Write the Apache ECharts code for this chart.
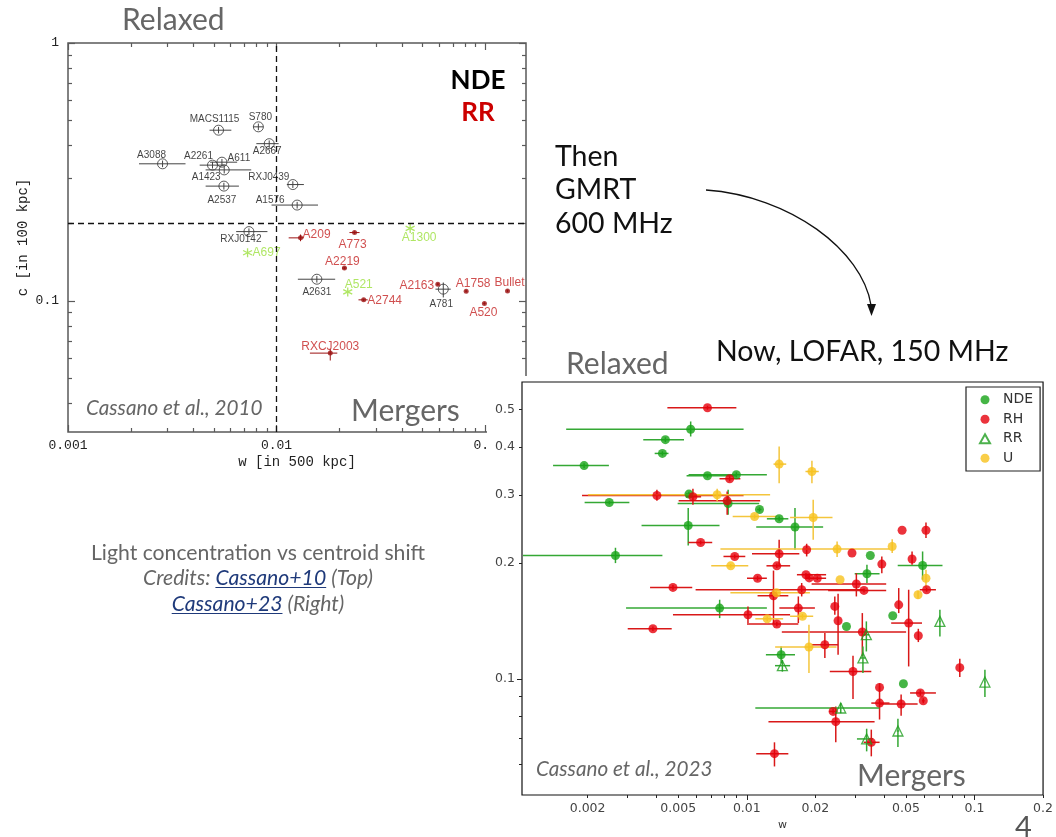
<!DOCTYPE html>
<html>
<head>
<meta charset="utf-8">
<title>Light concentration vs centroid shift</title>
<script src="https://cdn.jsdelivr.net/npm/echarts@6.0.0/dist/echarts.min.js"></script>
<style>
html,body{margin:0;padding:0;background:#ffffff;}
#chart{width:1056px;height:837px;}
</style>
</head>
<body>
<div id="chart"></div>
<script>
// ================= DATA =================
// Thresholds drawn as dashed lines
const c10WLine = 0.0125;
const lofarWLine = 0.012;
const cLine = 0.2;

// Cassano et al. 2010 (GMRT 600 MHz). rows: [w, c, wLow, wHigh, cLow, cHigh]
const c10NdeNames = ['MACS1115','S780','A2667','A3088','A2261','A611','A1423','RXJ0439','A2537','A1576','RXJ0142','A2631','A781'];
const c10Nde = [
  [0.00527,0.459,0.00477,0.00607,0.446,0.473],
  [0.00818,0.473,0.00773,0.00865,0.459,0.487],
  [0.00922,0.407,0.0080,0.01023,0.395,0.419],
  [0.00284,0.340,0.00219,0.00366,0.330,0.350],
  [0.00493,0.336,0.00428,0.00565,0.326,0.346],
  [0.00547,0.345,0.0048,0.00647,0.335,0.355],
  [0.00561,0.322,0.00457,0.00756,0.312,0.332],
  [0.01197,0.2825,0.0112,0.01352,0.274,0.291],
  [0.00559,0.2786,0.00457,0.0066,0.270,0.287],
  [0.01255,0.2352,0.00946,0.0158,0.228,0.242],
  [0.00737,0.1856,0.0064,0.00904,0.180,0.191],
  [0.0156,0.1213,0.01265,0.0191,0.1177,0.1249],
  [0.063,0.111,0.0578,0.0684,0.1031,0.1178]
];
const c10RRNames = ['A209','A773','A2219','A2744','A2163','A1758','Bullet','A520','RXCJ2003'];
const c10RR = [
  [0.01303,0.1755,0.01143,0.01352,0.1703,0.1808],
  [0.02365,0.184,0.02236,0.025,0.182,0.186],
  [0.02115,0.134,0.0206,0.0217,0.1325,0.1355],
  [0.02616,0.1009,0.0247,0.02735,0.0998,0.102],
  [0.0593,0.116,0.0585,0.0601,0.1148,0.1172],
  [0.0811,0.109,0.08,0.0822,0.1078,0.1102],
  [0.128,0.1093,0.1265,0.1295,0.1081,0.1105],
  [0.0992,0.0977,0.098,0.1004,0.0966,0.0988],
  [0.01809,0.0627,0.01445,0.01955,0.0587,0.0651]
];
const c10UnkNames = ['A1300','A697','A521'];
const c10Unk = [
  [0.0437,0.191],
  [0.00726,0.1537],
  [0.02194,0.1083]
];

// Cassano et al. 2023 (LOFAR 150 MHz). rows: [w, c, wLow, wHigh, cLow, cHigh]
const lofarNDE = [
  [0.00567,0.445,0.00161,0.00968,0.426,0.466],
  [0.00439,0.418,0.00351,0.0053,0.412,0.424],
  [0.00426,0.385,0.00394,0.00453,0.380,0.390],
  [0.00193,0.358,0.00141,0.00248,0.353,0.363],
  [0.00672,0.337,0.00544,0.009,0.333,0.341],
  [0.009,0.339,0.00555,0.01225,0.334,0.344],
  [0.00557,0.302,0.0054,0.0058,0.298,0.306],
  [0.00828,0.2854,0.00497,0.01134,0.2668,0.3097],
  [0.00249,0.2871,0.00194,0.00305,0.284,0.290],
  [0.01137,0.2754,0.0111,0.0116,0.272,0.279],
  [0.01387,0.2605,0.01225,0.01522,0.257,0.264],
  [0.00553,0.2503,0.00345,0.00759,0.2221,0.2777],
  [0.00265,0.2092,0.00104,0.00426,0.1999,0.2191],
  [0.01628,0.248,0.011,0.02164,0.2165,0.2777],
  [0.03487,0.2092,0.03487,0.03487,0.2092,0.2092],
  [0.05916,0.1971,0.046,0.07234,0.181,0.2143],
  [0.0337,0.1876,0.02977,0.03828,0.1775,0.1979],
  [0.0076,0.1528,0.00295,0.01225,0.1439,0.1606],
  [0.04375,0.1459,0.04375,0.04375,0.1459,0.1459],
  [0.0274,0.1369,0.0274,0.0274,0.1369,0.1369],
  [0.01415,0.1156,0.01213,0.01628,0.110,0.1215],
  [0.04873,0.0972,0.04873,0.04873,0.0972,0.0972]
];
const lofarRH = [
  [0.00672,0.506,0.00448,0.009,0.500,0.512],
  [0.00841,0.331,0.00759,0.00937,0.326,0.336],
  [0.00403,0.2995,0.00189,0.00968,0.29,0.3097],
  [0.0058,0.2971,0.0054,0.0063,0.2832,0.3116],
  [0.0082,0.29,0.00502,0.01145,0.2668,0.3067],
  [0.00627,0.2261,0.00553,0.00705,0.2235,0.2287],
  [0.00885,0.208,0.0079,0.00985,0.2055,0.2105],
  [0.01387,0.2113,0.01054,0.01701,0.196,0.2298],
  [0.01355,0.1967,0.0122,0.0155,0.194,0.1994],
  [0.01115,0.1826,0.01002,0.01225,0.18,0.1852],
  [0.00474,0.1729,0.00376,0.00576,0.1705,0.1753],
  [0.01742,0.1705,0.00596,0.03293,0.1638,0.1775],
  [0.0131,0.1645,0.01115,0.01522,0.1389,0.1912],
  [0.01012,0.1468,0.00474,0.01549,0.1397,0.1543],
  [0.01355,0.1389,0.01002,0.01684,0.137,0.1408],
  [0.00387,0.135,0.003,0.00468,0.1332,0.1368],
  [0.01684,0.1528,0.0139,0.01991,0.1397,0.1638],
  [0.02435,0.1543,0.02435,0.02435,0.1468,0.1638],
  [0.02202,0.1227,0.01926,0.02517,0.1134,0.1316],
  [0.02517,0.1416,0.02517,0.02517,0.1156,0.1664],
  [0.03216,0.1324,0.01425,0.05007,0.1145,0.1483],
  [0.05139,0.1397,0.04306,0.0588,0.1078,0.1705],
  [0.04647,0.1558,0.04647,0.04647,0.1483,0.1722],
  [0.05666,0.1295,0.05666,0.05666,0.1247,0.135],
  [0.02927,0.1046,0.02315,0.03522,0.0887,0.1149],
  [0.03828,0.0951,0.03828,0.03828,0.0925,0.0975],
  [0.05781,0.092,0.05212,0.06769,0.0905,0.0935],
  [0.05958,0.0878,0.0588,0.0604,0.0865,0.0891],
  [0.08617,0.107,0.08617,0.08617,0.1012,0.1129],
  [0.03828,0.0866,0.03522,0.04233,0.0785,0.0957],
  [0.04761,0.0861,0.03828,0.05626,0.0803,0.0911],
  [0.02393,0.0824,0.0230,0.0250,0.0812,0.0836],
  [0.02459,0.0775,0.01245,0.03641,0.0685,0.0849],
  [0.03522,0.0685,0.0326,0.0383,0.063,0.0739],
  [0.01323,0.064,0.011,0.01522,0.0593,0.0685],
  [0.04809,0.2432,0.04809,0.04809,0.2432,0.2432],
  [0.06122,0.2432,0.06122,0.06122,0.2322,0.2548],
  [0.01832,0.2165,0.01832,0.01832,0.208,0.2244],
  [0.02897,0.2123,0.02897,0.02897,0.2123,0.2123],
  [0.03917,0.1987,0.03917,0.03917,0.1882,0.208],
  [0.05318,0.2048,0.05318,0.05318,0.1979,0.2143],
  [0.01819,0.1865,0.0166,0.0223,0.1845,0.1885],
  [0.0188,0.183,0.0186,0.019,0.181,0.185],
  [0.0204,0.1826,0.0182,0.0223,0.1806,0.1846],
  [0.03028,0.1764,0.01926,0.04094,0.1638,0.1882],
  [0.0327,0.1698,0.02276,0.04094,0.1678,0.1718],
  [0.0616,0.1705,0.0575,0.0677,0.1685,0.1725]
];
const lofarRR = [
  [0.07047,0.1411,0.0700,0.0710,0.129,0.1513],
  [0.0335,0.1303,0.0325,0.0345,0.1179,0.1411],
  [0.03236,0.1134,0.0315,0.0332,0.1036,0.1215],
  [0.01433,0.1083,0.0133,0.0155,0.1045,0.112],
  [0.1111,0.0982,0.1105,0.1117,0.0898,0.1057],
  [0.02586,0.0841,0.0109,0.03828,0.0815,0.0867],
  [0.0461,0.0733,0.0455,0.0467,0.0666,0.0789],
  [0.0336,0.0699,0.03046,0.03579,0.0649,0.0743]
];
const lofarU = [
  [0.01387,0.3612,0.0131,0.0149,0.3224,0.4012],
  [0.01932,0.3456,0.0181,0.0207,0.3224,0.3684],
  [0.00741,0.3007,0.002006,0.01266,0.2888,0.3116],
  [0.01082,0.2641,0.00867,0.01355,0.261,0.2672],
  [0.01957,0.2625,0.01549,0.02379,0.2298,0.2918],
  [0.02492,0.2174,0.00766,0.04233,0.2073,0.2275],
  [0.0435,0.2208,0.0435,0.0435,0.2123,0.2307],
  [0.0085,0.1967,0.00698,0.01015,0.1945,0.1989],
  [0.02568,0.181,0.02568,0.02568,0.181,0.181],
  [0.06122,0.1826,0.06122,0.06122,0.1722,0.192],
  [0.05649,0.1655,0.05649,0.05649,0.1615,0.1695],
  [0.0135,0.1674,0.00847,0.01893,0.1654,0.1694],
  [0.01229,0.1433,0.0109,0.01444,0.1413,0.1453],
  [0.01756,0.1455,0.01549,0.01957,0.1435,0.1475],
  [0.01875,0.1211,0.01332,0.02477,0.1036,0.1383]
];

// Tick values
const c10WLabels = [0.001, 0.01, 0.1];
const c10WMinor = [0.002,0.003,0.004,0.005,0.006,0.007,0.008,0.009,0.02,0.03,0.04,0.05,0.06,0.07,0.08,0.09];
const c10CLabels = [0.1, 1];
const c10CMinor = [0.04,0.05,0.06,0.07,0.08,0.09,0.2,0.3,0.4,0.5,0.6,0.7,0.8,0.9];
const lofarWLabels = [0.002,0.005,0.01,0.02,0.05,0.1,0.2];
const lofarWMajor = [0.01, 0.1];
const lofarWMinor = [0.002,0.003,0.004,0.005,0.006,0.007,0.008,0.009,0.02,0.03,0.04,0.05,0.06,0.07,0.08,0.09,0.2];
const lofarCLabels = [0.1,0.2,0.3,0.4,0.5];
const lofarCMajor = [0.1];
const lofarCMinor = [0.06,0.07,0.08,0.09,0.2,0.3,0.4,0.5];

// ================= STYLE (label nudges, colours) =================
const c10NdeLabelOffset = [[-4,-11],[2,-10],[-2,8],[-11,-9],[-14,-9],[17,-4],[-18,7],[-24,-7],[-2,14],[-27,-5],[-8,8],[0,13],[-2,15]];
const c10RRLabelOffset = [[16,-3],[-2,12],[-2,-6],[21,1],[-21,1],[7,-8],[2,-8],[-1,9],[0,-6]];
const c10UnkLabelOffset = [[9,9],[19,0],[11,-7]];

const SLIDE_FONT = 'Lato, "Noto Sans", sans-serif';
const MONO = '"Liberation Mono", "DejaVu Sans Mono", monospace';
const SANS = '"Liberation Sans", Arial, sans-serif';
const MPL = '"DejaVu Sans", sans-serif';
const GREY = '#666666';
const COL = {
  ndeDot: '#17a317', ndeErr: '#34a834',
  rhDot: '#e6000b', rhErr: '#d91818',
  rrDot: '#1f9e1f', rrErr: '#34a834',
  uDot: '#f8c21b', uErr: '#f4c53c',
  c10Black: '#333333', c10Red: '#9b1111', c10RedLabel: '#c42323', c10Green: '#9be03c'
};

// ================= CHART =================
const chart = echarts.init(document.getElementById('chart'), null, {renderer: 'canvas'});
const fmt = v => String(Number(Number(v).toPrecision(3)));

function logAxis(extra) {
  return Object.assign({
    type: 'log', logBase: 10,
    splitLine: {show: false}, axisLine: {show: false},
    axisLabel: {show: false}, axisTick: {show: false}, axisPointer: {show: false}
  }, extra);
}
const LT = {color: '#5a5a5a', width: 1.2};
const RT = {color: '#222222', width: 1};
const c10W = {gridIndex: 0, min: 0.001, max: 0.157};
const c10C = {gridIndex: 0, min: 0.031, max: 1};
const lofW = {gridIndex: 1, min: 0.00103, max: 0.2, z: 6};
const lofC = {gridIndex: 1, min: 0.05, max: 0.59, z: 6};

const xAxes = [
  logAxis(Object.assign({}, c10W, {position: 'bottom',
    axisTick: {show: true, inside: true, length: 7, customValues: c10WLabels, lineStyle: LT},
    axisLabel: {show: true, customValues: c10WLabels, formatter: fmt, margin: 7, fontFamily: MONO, fontSize: 13, color: '#222'},
    name: 'w [in 500 kpc]', nameLocation: 'middle', nameGap: 23,
    nameTextStyle: {fontFamily: MONO, fontSize: 14, color: '#222'}})),
  logAxis(Object.assign({}, c10W, {position: 'bottom',
    axisTick: {show: true, inside: true, length: 4, customValues: c10WMinor, lineStyle: LT}})),
  logAxis(Object.assign({}, c10W, {position: 'top',
    axisTick: {show: true, inside: true, length: 7, customValues: c10WLabels, lineStyle: LT}})),
  logAxis(Object.assign({}, c10W, {position: 'top',
    axisTick: {show: true, inside: true, length: 4, customValues: c10WMinor, lineStyle: LT}})),
  logAxis(Object.assign({}, lofW, {position: 'bottom',
    axisTick: {show: true, inside: false, length: 5, customValues: lofarWMajor, lineStyle: RT},
    axisLabel: {show: true, customValues: lofarWLabels, formatter: fmt, margin: 7, fontFamily: MPL, fontSize: 12.5, color: '#444'},
    name: 'w', nameLocation: 'middle', nameGap: 25,
    nameTextStyle: {fontFamily: MPL, fontSize: 11, color: '#333'}})),
  logAxis(Object.assign({}, lofW, {position: 'bottom',
    axisTick: {show: true, inside: false, length: 3, customValues: lofarWMinor, lineStyle: RT}}))
];
const yAxes = [
  logAxis(Object.assign({}, c10C, {position: 'left',
    axisTick: {show: true, inside: true, length: 7, customValues: c10CLabels, lineStyle: LT},
    axisLabel: {show: true, customValues: c10CLabels, formatter: fmt, margin: 9, fontFamily: MONO, fontSize: 13, color: '#222'},
    name: 'c [in 100 kpc]', nameLocation: 'middle', nameGap: 38,
    nameTextStyle: {fontFamily: MONO, fontSize: 14, color: '#222'}})),
  logAxis(Object.assign({}, c10C, {position: 'left',
    axisTick: {show: true, inside: true, length: 4, customValues: c10CMinor, lineStyle: LT}})),
  logAxis(Object.assign({}, c10C, {position: 'right',
    axisTick: {show: true, inside: true, length: 7, customValues: c10CLabels, lineStyle: LT}})),
  logAxis(Object.assign({}, c10C, {position: 'right',
    axisTick: {show: true, inside: true, length: 4, customValues: c10CMinor, lineStyle: LT}})),
  logAxis(Object.assign({}, lofC, {position: 'left',
    axisTick: {show: true, inside: false, length: 5, customValues: lofarCMajor, lineStyle: RT},
    axisLabel: {show: true, customValues: lofarCLabels, formatter: fmt, margin: 7, fontFamily: MPL, fontSize: 12.5, color: '#444'}})),
  logAxis(Object.assign({}, lofC, {position: 'left',
    axisTick: {show: true, inside: false, length: 3, customValues: lofarCMinor, lineStyle: RT}}))
];

function errSeries(name, rows, color, lw, xi, yi, z) {
  return {
    type: 'custom', name: name, xAxisIndex: xi, yAxisIndex: yi, z: z, silent: true, clip: true,
    data: rows.map(r => r.slice(0, 6)),
    encode: {x: 0, y: 1},
    renderItem: function (params, api) {
      const c = api.coord([api.value(0), api.value(1)]);
      const l = api.coord([api.value(2), api.value(1)]);
      const r = api.coord([api.value(3), api.value(1)]);
      const b = api.coord([api.value(0), api.value(4)]);
      const t = api.coord([api.value(0), api.value(5)]);
      const st = {stroke: color, lineWidth: lw, fill: null};
      return {type: 'group', children: [
        {type: 'line', shape: {x1: l[0], y1: c[1], x2: r[0], y2: c[1]}, style: st},
        {type: 'line', shape: {x1: c[0], y1: b[1], x2: c[0], y2: t[1]}, style: st}
      ]};
    }
  };
}
function labelled(rows, names, offsets) {
  return rows.map((r, i) => ({name: names[i], value: [r[0], r[1]], label: {offset: offsets[i]}}));
}
const pts = rows => rows.map(r => [r[0], r[1]]);

const series = [
  // ---- left: Cassano+10 ----
  {type: 'line', name: 'c10 thresholds', xAxisIndex: 0, yAxisIndex: 0, data: [], z: 1, silent: true,
    markLine: {silent: true, symbol: 'none', animation: false, label: {show: false},
      lineStyle: {color: '#111', type: [6, 4], width: 1.3},
      data: [{xAxis: c10WLine}, {yAxis: cLine}]}},
  errSeries('c10 NDE err', c10Nde, '#444', 1, 0, 0, 2),
  errSeries('c10 RR err', c10RR, COL.c10Red, 1, 0, 0, 2),
  {type: 'scatter', name: 'c10 NDE', xAxisIndex: 0, yAxisIndex: 0, z: 3, silent: true,
    symbol: 'circle', symbolSize: 10,
    itemStyle: {color: 'rgba(0,0,0,0)', borderColor: COL.c10Black, borderWidth: 1},
    label: {show: true, position: 'inside', formatter: '{b}', fontFamily: SANS, fontSize: 10, color: '#111'},
    data: labelled(c10Nde, c10NdeNames, c10NdeLabelOffset)},
  {type: 'scatter', name: 'c10 RR', xAxisIndex: 0, yAxisIndex: 0, z: 3, silent: true,
    symbol: 'circle', symbolSize: 5, itemStyle: {color: COL.c10Red},
    label: {show: true, position: 'inside', formatter: '{b}', fontFamily: SANS, fontSize: 12, color: COL.c10RedLabel},
    data: labelled(c10RR, c10RRNames, c10RRLabelOffset)},
  {type: 'scatter', name: 'c10 unclassified', xAxisIndex: 0, yAxisIndex: 0, z: 3, silent: true,
    symbol: 'path://M5,0L5,10M0.7,2.5L9.3,7.5M0.7,7.5L9.3,2.5', symbolSize: 9,
    itemStyle: {color: 'rgba(0,0,0,0)', borderColor: COL.c10Green, borderWidth: 1.3},
    label: {show: true, position: 'inside', formatter: '{b}', fontFamily: SANS, fontSize: 12, color: COL.c10Green},
    data: labelled(c10Unk, c10UnkNames, c10UnkLabelOffset)},

  // ---- right: Cassano+23 ----
  {type: 'line', name: 'lofar thresholds', xAxisIndex: 4, yAxisIndex: 4, data: [], z: 6.5, silent: true,
    markLine: {silent: true, symbol: 'none', animation: false, label: {show: false},
      data: [
        {xAxis: lofarWLine, lineStyle: {color: '#222', type: [3, 3], width: 1.2}},
        {yAxis: cLine, lineStyle: {color: '#c2477a', type: [3, 3], width: 1.2}}
      ]}},
  errSeries('NDE err', lofarNDE, COL.ndeErr, 1.5, 4, 4, 7),
  errSeries('RH err', lofarRH, COL.rhErr, 1.5, 4, 4, 7),
  errSeries('RR err', lofarRR, COL.rrErr, 1.5, 4, 4, 7),
  errSeries('U err', lofarU, COL.uErr, 1.5, 4, 4, 7),
  {type: 'scatter', name: 'NDE', xAxisIndex: 4, yAxisIndex: 4, z: 8, silent: true,
    symbol: 'circle', symbolSize: 9, itemStyle: {color: COL.ndeDot}, data: pts(lofarNDE)},
  {type: 'scatter', name: 'RH', xAxisIndex: 4, yAxisIndex: 4, z: 8, silent: true,
    symbol: 'circle', symbolSize: 9, itemStyle: {color: COL.rhDot}, data: pts(lofarRH)},
  {type: 'scatter', name: 'RR', xAxisIndex: 4, yAxisIndex: 4, z: 8, silent: true,
    symbol: 'triangle', symbolSize: 10,
    itemStyle: {color: 'rgba(255,255,255,0)', borderColor: COL.rrDot, borderWidth: 1.3}, data: pts(lofarRR)},
  {type: 'scatter', name: 'U', xAxisIndex: 4, yAxisIndex: 4, z: 8, silent: true,
    symbol: 'circle', symbolSize: 9, itemStyle: {color: COL.uDot}, data: pts(lofarU)}
];

// ---------- slide text & decorations ----------
function txt(text, x, y, opt) {
  opt = opt || {};
  return {
    type: 'text', x: x, y: y, z: 20, silent: true,
    style: {
      text: text, fill: opt.color || '#111',
      fontSize: opt.size || 28, fontFamily: opt.family || SLIDE_FONT,
      fontWeight: opt.weight || 'normal', fontStyle: opt.style || 'normal',
      align: opt.align || 'left', verticalAlign: 'middle',
      textAlign: opt.align || 'left', textVerticalAlign: 'middle'
    }
  };
}
const measureCtx = document.createElement('canvas').getContext('2d');
function measure(text, font) { measureCtx.font = font; return measureCtx.measureText(text).width; }

const graphics = [
  {type: 'rect', shape: {x: 487, y: 376, width: 569, height: 461}, style: {fill: '#ffffff'}, z: 5, silent: true},
  txt('Relaxed', 122, 20, {color: GREY, size: 30}),
  txt('NDE', 478, 81, {size: 26, weight: 'bold', align: 'center', color: '#000'}),
  txt('RR', 478, 113, {size: 26, weight: 'bold', align: 'center', color: '#cc0000'}),
  txt('Cassano et al., 2010', 86, 408, {color: GREY, size: 20.7, style: 'italic'}),
  txt('Mergers', 351, 411, {color: GREY, size: 30}),
  txt('Then', 555, 157, {size: 28.5}),
  txt('GMRT', 555, 190, {size: 28.5}),
  txt('600 MHz', 555, 224, {size: 28.5}),
  txt('Now, LOFAR, 150 MHz', 716, 352, {size: 28.5}),
  txt('Relaxed', 566, 364, {color: GREY, size: 30}),
  txt('Cassano et al., 2023', 536, 769, {color: GREY, size: 20.7, style: 'italic'}),
  txt('Mergers', 857, 776, {color: GREY, size: 30}),
  txt('4', 1015, 828, {color: '#555', size: 29}),
  txt('Light concentration vs centroid shift', 258, 553, {color: GREY, size: 21.2, align: 'center'}),
  {type: 'bezierCurve', z: 20, silent: true,
    shape: {x1: 706, y1: 190, cpx1: 790, cpy1: 196, cpx2: 862, cpy2: 250, x2: 871, y2: 305},
    style: {stroke: '#111', lineWidth: 1.3, fill: null}},
  {type: 'polygon', z: 20, silent: true, shape: {points: [[871.5, 316], [867, 304], [876, 304]]}, style: {fill: '#111'}}
];

// credits lines with underlined links
function creditLine(parts, cy) {
  const size = 21.2;
  const font = 'italic ' + size + 'px ' + SLIDE_FONT;
  const widths = parts.map(p => measure(p[0], font));
  const total = widths.reduce((a, b) => a + b, 0);
  let x = 258 - total / 2;
  parts.forEach((p, i) => {
    const col = p[1] ? '#1f3a7a' : GREY;
    graphics.push(txt(p[0], x, cy, {color: col, size: size, style: 'italic'}));
    if (p[1]) {
      graphics.push({type: 'line', z: 20, silent: true,
        shape: {x1: x, y1: cy + 9.5, x2: x + widths[i], y2: cy + 9.5},
        style: {stroke: '#1f3a7a', lineWidth: 1.2}});
    }
    x += widths[i];
  });
}
creditLine([['Credits: ', false], ['Cassano+10', true], [' (Top)', false]], 578);
creditLine([['Cassano+23', true], [' (Right)', false]], 604);

const option = {
  animation: false,
  backgroundColor: '#ffffff',
  textStyle: {fontFamily: SLIDE_FONT},
  grid: [
    {left: 68, top: 43, width: 458, height: 389, show: true, borderColor: '#5a5a5a', borderWidth: 1.5,
      backgroundColor: 'rgba(0,0,0,0)', containLabel: false},
    {left: 522, top: 382, width: 523, height: 413, show: true, borderColor: '#111', borderWidth: 1.2,
      backgroundColor: '#ffffff', containLabel: false, z: 6}
  ],
  xAxis: xAxes,
  yAxis: yAxes,
  legend: {
    data: [{name: 'NDE', icon: 'circle'}, {name: 'RH', icon: 'circle'}, {name: 'RR', icon: 'triangle'}, {name: 'U', icon: 'circle'}],
    orient: 'vertical', left: 966, top: 387, z: 12,
    itemWidth: 10, itemHeight: 9, itemGap: 4, padding: [5, 7, 5, 13],
    backgroundColor: '#ffffff', borderColor: '#222', borderWidth: 1.2, borderRadius: 0,
    selectedMode: false,
    textStyle: {fontFamily: MPL, fontSize: 14, color: '#333', lineHeight: 15.5, padding: [0, 0, 0, 8]}
  },
  series: series,
  graphic: {elements: graphics}
};
chart.setOption(option);
</script>
</body>
</html>
